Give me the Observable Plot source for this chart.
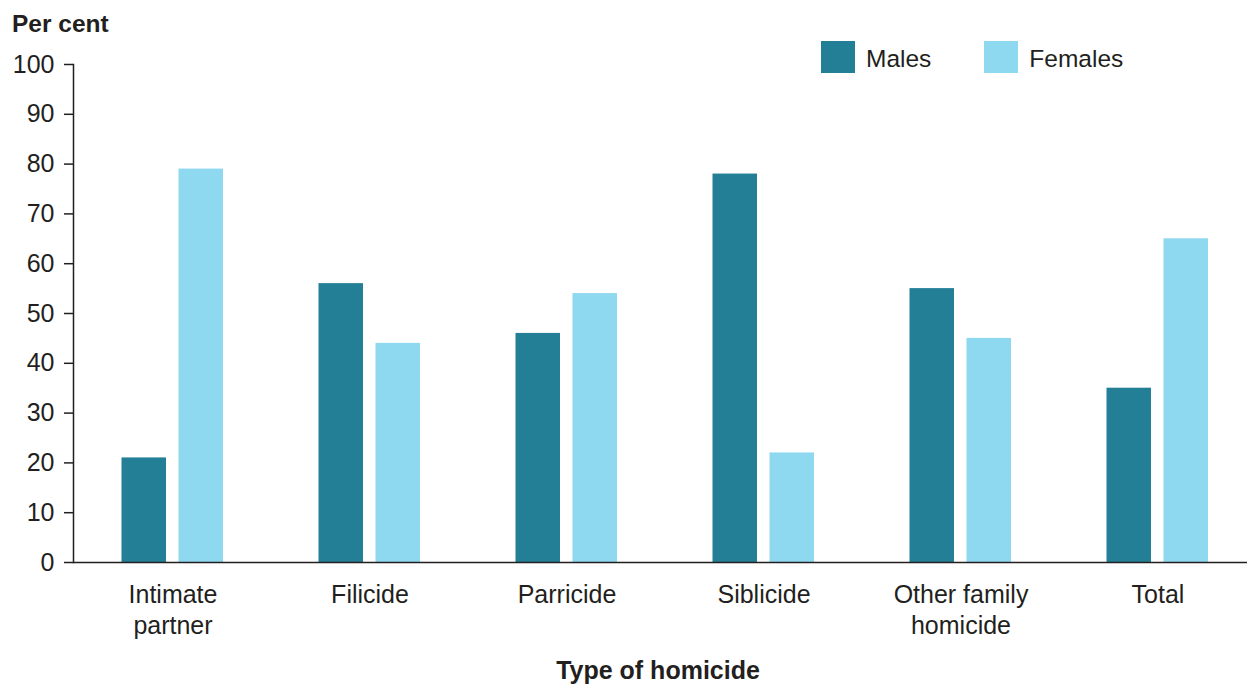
<!DOCTYPE html>
<html>
<head>
<meta charset="utf-8">
<script src="https://cdn.jsdelivr.net/npm/d3@7"></script>
<script src="https://cdn.jsdelivr.net/npm/@observablehq/plot@0.6"></script>
<style>
  html, body { margin: 0; padding: 0; background: #fff; }
  #wrap { position: relative; width: 1247px; height: 684px; font-family: "Liberation Sans", Arial, sans-serif; color: #231f20; }
  #chart { position: absolute; left: 0; top: 0; }
  .ytitle { position: absolute; left: 12px; top: 10px; font-weight: bold; font-size: 24.5px; }
  .xtitle { position: absolute; left: 0; width: 1316px; top: 656px; text-align: center; font-weight: bold; font-size: 25px; }
  .legend { position: absolute; top: 41px; left: 821px; display: flex; align-items: center; font-size: 24.5px; }
  .legend .item { display: flex; align-items: center; margin-right: 53px; }
  .legend .item span { position: relative; top: 2px; }
  .legend .sw { width: 34px; height: 32px; margin-right: 11px; }
</style>
</head>
<body>
<div id="wrap">
  <div id="chart"></div>
  <div class="ytitle">Per cent</div>
  <div class="xtitle">Type of homicide</div>
  <div class="legend" id="legend"></div>
</div>
<script>
const categories = ["Intimate\npartner", "Filicide", "Parricide", "Siblicide", "Other family\nhomicide", "Total"];
const series = ["Males", "Females"];
const colors = ["#237f96", "#8ed8f0"];
const males = [21, 56, 46, 78, 55, 35];
const females = [79, 44, 54, 22, 45, 65];
const yTicks = [0, 10, 20, 30, 40, 50, 60, 70, 80, 90, 100];

const maleData = categories.map((c, i) => ({category: c, sex: "Males", value: males[i]}));
const femaleData = categories.map((c, i) => ({category: c, sex: "Females", value: females[i]}));

const plot = Plot.plot({
  width: 1247,
  height: 684,
  marginTop: 64,
  marginBottom: 122,
  marginLeft: 73,
  marginRight: 0,
  style: {fontFamily: "'Liberation Sans', Arial, sans-serif", fontSize: "25px", color: "#231f20", background: "white"},
  x: {type: "band", domain: categories, range: [73, 1256], padding: 0, axis: null},
  y: {domain: [0, 100], axis: null},
  marks: [
    Plot.barY(maleData, {x: "category", y: "value", fill: colors[0], insetLeft: 47.5, insetRight: 105}),
    Plot.barY(femaleData, {x: "category", y: "value", fill: colors[1], insetLeft: 104.5, insetRight: 48}),
    Plot.axisY({ticks: yTicks, tickSize: 9, tickPadding: 10, stroke: "#231f20", strokeWidth: 1.5, fill: "#231f20", fontSize: 25, label: null}),
    Plot.axisX({tickSize: 0, tickPadding: 18, lineHeight: 1.24, fontSize: 25, fill: "#231f20", label: null}),
    Plot.frame({anchor: "left", stroke: "#231f20", strokeWidth: 1.5}),
    Plot.ruleY([0], {stroke: "#231f20", strokeWidth: 1.5})
  ]
});
document.getElementById("chart").appendChild(plot);

const legend = document.getElementById("legend");
series.forEach((s, i) => {
  const item = document.createElement("div");
  item.className = "item";
  const sw = document.createElement("div");
  sw.className = "sw";
  sw.style.background = colors[i];
  const t = document.createElement("span");
  t.textContent = s;
  item.appendChild(sw);
  item.appendChild(t);
  legend.appendChild(item);
});
</script>
</body>
</html>
